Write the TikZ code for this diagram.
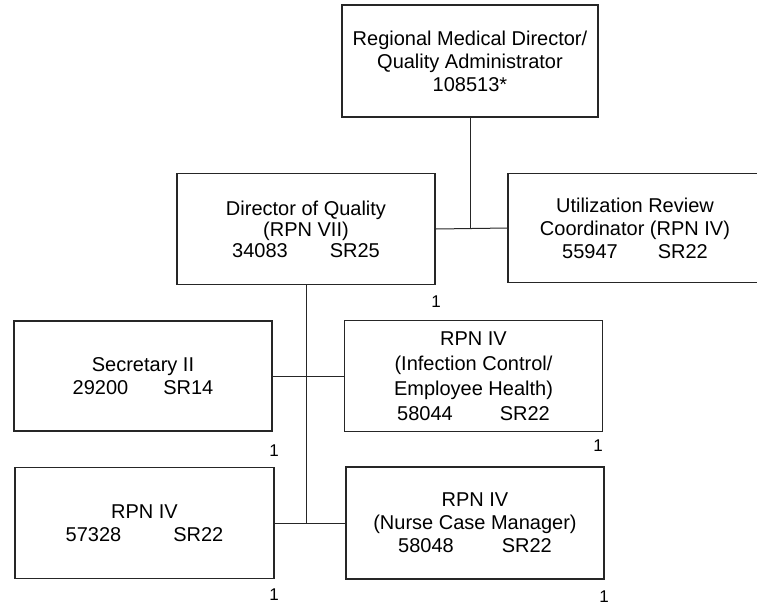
\documentclass[tikz,border=0pt]{standalone}
\usepackage{fontspec}
\setmainfont{Liberation Sans}
\usetikzlibrary{positioning}

\begin{document}
\begin{tikzpicture}[
  x=0.5pt, y=-0.5pt, font=\fontsize{10}{11.5}\selectfont,
  box/.style={draw=black!85, line width=0.6pt, minimum width=129pt, minimum height=55.5pt, align=center, inner sep=2pt},
  link/.style={draw=black!85, line width=0.5pt},
  cnt/.style={font=\fontsize{8.5}{10}\selectfont, inner sep=0pt}
]
\useasboundingbox (0,0) rectangle (757,607);

% ---------- TOP ----------
\node[box, minimum width=128pt, minimum height=56pt] (rmd) at (470,61)
  {Regional Medical Director/\\Quality Administrator\\108513*};

% ---------- SECOND ROW ----------
\node[box, font=\fontsize{10}{10.5}\selectfont] (dir) at (306,229)
  {Director of Quality\\(RPN VII)\\34083\hspace{2.1em}SR25};
\node[box, minimum width=127pt, minimum height=54.5pt] (urc) at (635,228)
  {Utilization Review\\Coordinator (RPN IV)\\55947\hspace{2em}SR22};

% ---------- STAFF ----------
\node[box, minimum height=55pt] (sec) at (143,376)
  {Secretary II\\29200\hspace{1.75em}SR14};
\node[box, font=\fontsize{10}{12.5}\selectfont] (ic) at (473.5,376)
  {RPN IV\\(Infection Control/\\Employee Health)\\58044\hspace{2.35em}SR22};
\node[box, minimum width=129.5pt] (rpn) at (144.5,523)
  {RPN IV\\57328\hspace{2.6em}SR22};
\node[box, minimum height=56pt] (ncm) at (475,523)
  {RPN IV\\(Nurse Case Manager)\\58048\hspace{2.4em}SR22};

% ---------- CONNECTORS ----------
\coordinate (jA) at (rmd.south |- dir.east);
\coordinate (jB) at (dir.south |- rpn.east);
\draw[link] (rmd.south) -- (jA);
\draw[link] (dir.east) -- (urc.west);
\draw[link] (dir.south) -- (jB);
\draw[link] (sec.east) -- (ic.west);
\draw[link] (rpn.east) -- (ncm.west);

% ---------- COUNTS ----------
\node[cnt] (c1) at (436,302) {1};
\node[cnt] (c2) at (274,451) {1};
\node[cnt] (c3) at (598,446) {1};
\node[cnt] (c4) at (274,595) {1};
\node[cnt] (c5) at (604,597) {1};

\end{tikzpicture}
\end{document}
